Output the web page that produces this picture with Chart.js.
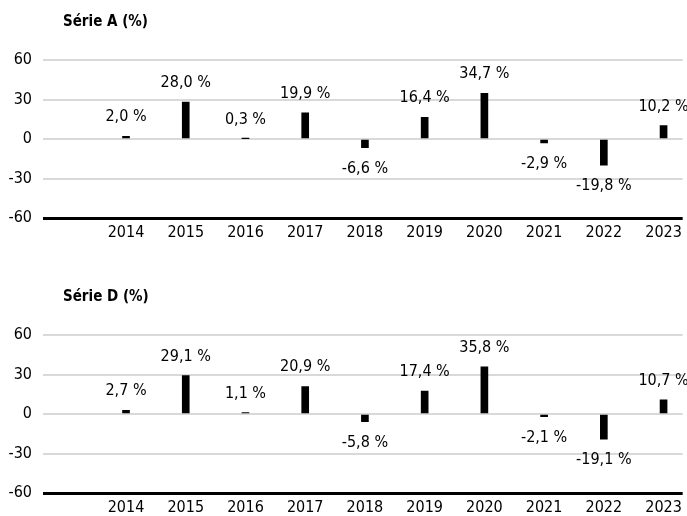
<!DOCTYPE html>
<html>
<head>
<meta charset="utf-8">
<script src="https://cdn.jsdelivr.net/npm/chart.js@4"></script>
<style>
  html, body { margin: 0; padding: 0; background: #fff; overflow: hidden; }
  .panel { position: absolute; left: 0; width: 687px; height: 242px; }
  #panel_a { top: 0; }
  #panel_d { top: 275px; }
</style>
</head>
<body>
<div class="panel" id="panel_a"><canvas id="serie_a_plot"></canvas></div>
<div class="panel" id="panel_d"><canvas id="serie_d_plot"></canvas></div>
<script>
const years = [2014, 2015, 2016, 2017, 2018, 2019, 2020, 2021, 2022, 2023];
const serie_a_values = [2.0, 28.0, 0.3, 19.9, -6.6, 16.4, 34.7, -2.9, -19.8, 10.2];
const serie_d_values = [2.7, 29.1, 1.1, 20.9, -5.8, 17.4, 35.8, -2.1, -19.1, 10.7];
const y_ticks = [-60, -30, 0, 30, 60];

const font_family = "'Liberation Sans Narrow', 'DejaVu Sans Condensed', 'Liberation Sans', sans-serif";
Chart.defaults.font.family = font_family;
Chart.defaults.color = '#000';

function fmt(v) {
  return v.toFixed(1).replace('.', ',') + ' %';
}

// value labels above/below bars + panel title
const bar_labels = {
  id: 'bar_labels',
  afterDatasetsDraw(chart, args, opts) {
    const ctx = chart.ctx;
    ctx.save();
    ctx.fillStyle = '#000';
    ctx.textAlign = 'center';
    ctx.textBaseline = 'alphabetic';
    ctx.font = '16px ' + font_family;
    const meta = chart.getDatasetMeta(0);
    const values = chart.data.datasets[0].data;
    meta.data.forEach((bar, i) => {
      const v = values[i].y;
      if (v >= 0) {
        ctx.fillText(fmt(v), bar.x, bar.y - 15);
      } else {
        ctx.fillText(fmt(v), bar.x, bar.y + 25);
      }
    });
    ctx.textAlign = 'left';
    ctx.font = 'bold 15px ' + font_family;
    ctx.fillText(opts.title, 63, 26);
    ctx.restore();
  }
};

function make_chart(canvas, values, title) {
  return new Chart(canvas, {
    type: 'bar',
    data: {
      datasets: [{
        data: years.map((yr, i) => ({x: yr, y: values[i]})),
        backgroundColor: '#000',
        barThickness: 7
      }]
    },
    options: {
      maintainAspectRatio: false,
      animation: false,
      layout: { padding: { top: 60, right: 4, left: 0, bottom: 0 } },
      scales: {
        x: {
          type: 'linear',
          offset: false,
          min: 2012.61,
          max: 2023.32,
          afterBuildTicks: (scale) => { scale.ticks = years.map(v => ({value: v})); },
          afterFit: (scale) => { scale.height = 24; },
          grid: { display: false, drawTicks: false },
          border: { display: false },
          ticks: {
            font: { size: 16 },
            color: '#000',
            padding: 5,
            maxRotation: 0,
            autoSkip: false,
            callback: (v) => String(v)
          }
        },
        y: {
          min: -60,
          max: 60,
          afterBuildTicks: (scale) => { scale.ticks = y_ticks.map(v => ({value: v})); },
          afterFit: (scale) => { scale.width = 43; },
          border: { display: false },
          grid: {
            drawTicks: false,
            color: (c) => c.tick && c.tick.value === -60 ? '#000' : '#d9d9d9',
            lineWidth: (c) => c.tick && c.tick.value === -60 ? 3 : 2
          },
          ticks: {
            font: { size: 16 },
            color: '#000',
            padding: 11
          }
        }
      },
      plugins: {
        legend: { display: false },
        tooltip: { enabled: false },
        bar_labels: { title: title }
      }
    },
    plugins: [bar_labels]
  });
}

const serie_a_chart = make_chart(document.querySelector('#serie_a_plot'), serie_a_values, 'Série A (%)');
const serie_d_chart = make_chart(document.querySelector('#serie_d_plot'), serie_d_values, 'Série D (%)');
</script>
</body>
</html>
